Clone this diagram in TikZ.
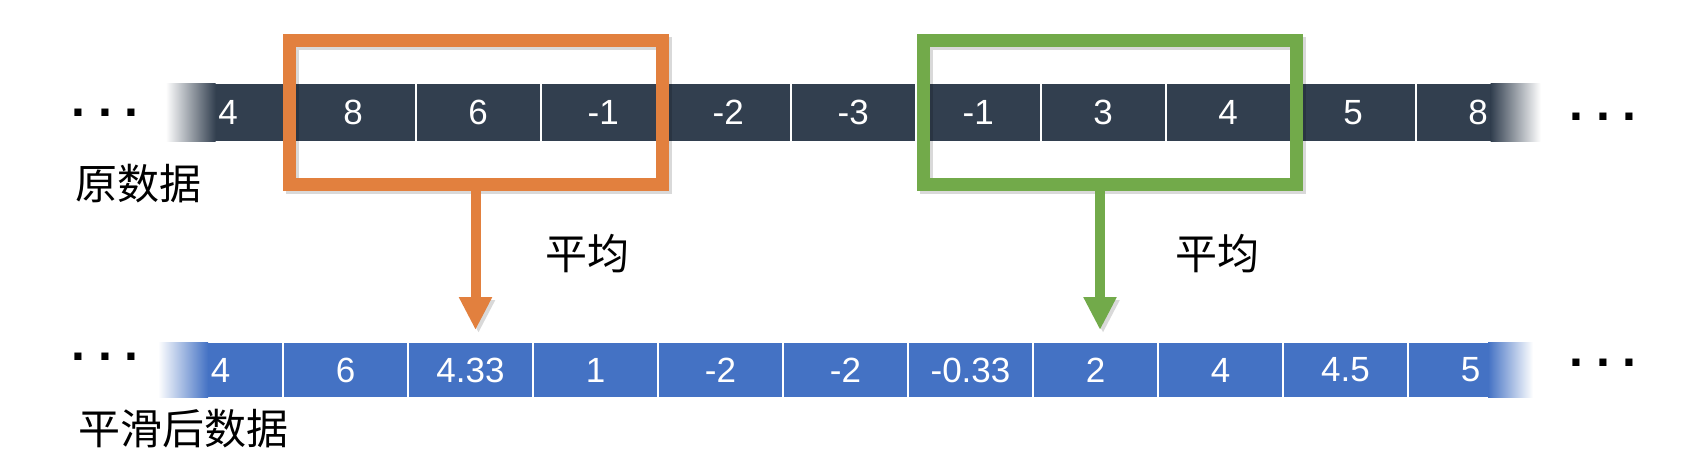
\documentclass[tikz,border=0pt]{standalone}
\usepackage{fontspec}
\setmainfont{Liberation Sans}
\newfontfamily\cjk{Noto Sans CJK SC}
\usetikzlibrary{arrows.meta,calc}
\definecolor{rawcol}{RGB}{50,63,79}
\definecolor{smoothcol}{RGB}{68,114,196}
\definecolor{wincolA}{RGB}{226,128,62}
\definecolor{wincolB}{RGB}{114,170,74}

\begin{document}
\begin{tikzpicture}[x=0.5pt,y=-0.5pt,
    cell/.style={draw=white,line width=0.8pt,text=white,inner sep=0pt,outer sep=0pt,
        minimum width=62.5pt,font=\fontsize{17.5}{21}\selectfont},
    rawcell/.style={cell,fill=rawcol,minimum height=29.5pt},
    smoothcell/.style={cell,fill=smoothcol,minimum height=28pt},
    boxshadow/.style={preaction={draw=black,opacity=.15,transform canvas={shift={(1.5pt,-1.5pt)}}}},
    window/.style={draw=#1,line width=6.5pt,minimum width=186.5pt,minimum height=72pt,inner sep=0pt,boxshadow},
    avgarrow/.style={draw=#1,line width=5pt,-{Triangle[width=15.5pt,length=16.5pt]},boxshadow},
    cnlabel/.style={font=\cjk\fontsize{21}{25}\selectfont,inner sep=0pt},
    ellip/.style={font=\bfseries\fontsize{25}{25}\selectfont,inner sep=0pt}]
    \useasboundingbox (0,0) rectangle (1684,472);

    % Original data row
    \foreach \v [count=\i from 0] in {4,8,6,-1,-2,-3,-1,3,4,5,8}
        \node[rawcell] (t\i) at (228.2+125*\i,112.5) {\v};
    \shade[left color=white,right color=rawcol] ([yshift=0.4pt]t0.south west) rectangle ([xshift=25pt,yshift=-0.4pt]t0.north west);
    \shade[left color=rawcol,right color=white] ([xshift=-25pt,yshift=0.4pt]t10.south east) rectangle ([yshift=-0.4pt]t10.north east);

    % Smoothed data row
    \foreach \v [count=\i from 0] in {4,6,4.33,1,-2,-2,-0.33,2,4,4.5,5}
        \node[smoothcell] (b\i) at (220.5+125*\i,370) {\v};
    \shade[left color=white,right color=smoothcol] ([yshift=0.4pt]b0.south west) rectangle ([xshift=25pt,yshift=-0.4pt]b0.north west);
    \shade[left color=smoothcol,right color=white] ([xshift=-22.5pt,yshift=0.4pt]b10.south east) rectangle ([yshift=-0.4pt]b10.north east);

    % Ellipses at both ends
    \node[ellip] (dtl) at (105,113) {.\kern6.5pt.\kern6.5pt.};
    \node[ellip] (dtr) at (1603,117) {.\kern6.5pt.\kern6.5pt.};
    \node[ellip] (dbl) at (105,357) {.\kern6.5pt.\kern6.5pt.};
    \node[ellip] (dbr) at (1603,363) {.\kern6.5pt.\kern6.5pt.};

    % Averaging windows
    \node[window=wincolA] (winA) at (475.5,112) {};
    \node[window=wincolB] (winB) at (1110,112) {};
    \draw[avgarrow=wincolA] (winA.south) -- ([yshift=6pt]winA.south |- b2.north);
    \draw[avgarrow=wincolB] ([xshift=-5pt]winB.south) -- ([xshift=-5pt,yshift=6pt]winB.south |- b7.north);

    % Labels
    \node[cnlabel,anchor=west] (raw) at (75,184) {原数据};
    \node[cnlabel,anchor=west] (smooth) at (78,429) {平滑后数据};
    \node[cnlabel] (avgA) at (587,254) {平均};
    \node[cnlabel] (avgB) at (1217,254) {平均};
\end{tikzpicture}
\end{document}
